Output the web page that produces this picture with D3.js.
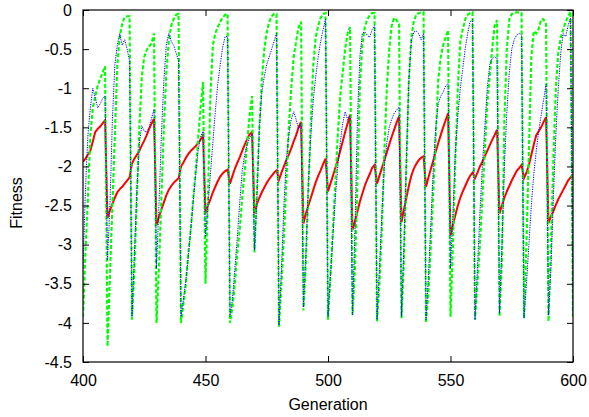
<!DOCTYPE html>
<html>
<head>
<meta charset="utf-8">
<script src="https://cdn.jsdelivr.net/npm/d3@7"></script>
<style>
  html, body { margin: 0; padding: 0; background: #fff; }
  svg { display: block; }
  text { font-family: "Liberation Sans", Arial, Helvetica, sans-serif; fill: #000; }
</style>
</head>
<body>
<svg id="chart" width="589" height="417"></svg>
<script>
// ---- data (generation 400 .. 600, one value per generation) ----
const genStart = 400, genEnd = 600;

const redSeries = [
  -1.94,-1.90,-1.85,-1.80,-1.68,-1.56,-1.52,-1.49,-1.45,-1.41,
  -2.66,-2.56,-2.48,-2.40,-2.33,-2.29,-2.26,-2.22,-2.18,-2.14,
  -1.96,-1.90,-1.85,-1.80,-1.73,-1.67,-1.60,-1.52,-1.45,-1.39,
  -2.75,-2.65,-2.55,-2.46,-2.37,-2.30,-2.25,-2.21,-2.18,-2.15,
  -2.00,-1.95,-1.89,-1.84,-1.80,-1.77,-1.74,-1.70,-1.66,-1.60,
  -2.60,-2.50,-2.42,-2.33,-2.26,-2.19,-2.13,-2.09,-2.06,-2.04,
  -2.22,-2.12,-2.03,-1.95,-1.88,-1.80,-1.72,-1.65,-1.59,-1.56,
  -2.60,-2.48,-2.40,-2.33,-2.27,-2.21,-2.16,-2.12,-2.08,-2.05,
  -2.17,-2.08,-2.00,-1.92,-1.85,-1.77,-1.68,-1.60,-1.50,-1.43,
  -2.73,-2.60,-2.50,-2.40,-2.30,-2.20,-2.12,-2.05,-1.97,-1.90,
  -2.32,-2.22,-2.12,-2.02,-1.92,-1.80,-1.68,-1.56,-1.45,-1.34,
  -2.81,-2.70,-2.58,-2.45,-2.35,-2.25,-2.17,-2.10,-2.02,-1.98,
  -2.22,-2.12,-2.02,-1.92,-1.82,-1.72,-1.62,-1.53,-1.44,-1.36,
  -2.71,-2.55,-2.40,-2.25,-2.12,-2.03,-1.97,-1.92,-1.89,-1.87,
  -2.26,-2.14,-2.03,-1.92,-1.81,-1.70,-1.60,-1.50,-1.41,-1.32,
  -2.88,-2.75,-2.62,-2.50,-2.40,-2.32,-2.25,-2.18,-2.12,-2.08,
  -2.15,-2.08,-2.00,-1.94,-1.87,-1.80,-1.73,-1.66,-1.60,-1.53,
  -2.60,-2.50,-2.40,-2.32,-2.25,-2.18,-2.12,-2.06,-2.02,-1.98,
  -2.15,-2.08,-1.98,-1.85,-1.72,-1.60,-1.55,-1.50,-1.43,-1.37,
  -2.72,-2.64,-2.57,-2.49,-2.42,-2.36,-2.30,-2.24,-2.18,-2.14,
  -2.10
];

const greenSeries = [
  -3.92,-3.10,-2.40,-1.60,-1.25,-1.10,-0.97,-0.88,-0.80,-0.72,
  -4.30,-3.40,-2.50,-1.60,-0.70,-0.34,-0.18,-0.09,-0.08,-0.08,
  -3.96,-3.30,-2.40,-1.50,-0.85,-0.60,-0.51,-0.47,-0.42,-0.30,
  -4.00,-3.30,-2.40,-1.50,-0.80,-0.40,-0.20,-0.12,-0.06,-0.05,
  -4.00,-3.75,-3.50,-3.10,-2.80,-2.40,-2.05,-1.65,-1.25,-0.92,
  -3.50,-2.40,-1.10,-0.45,-0.30,-0.22,-0.15,-0.10,-0.06,-0.05,
  -4.00,-3.80,-3.50,-3.10,-2.80,-2.40,-2.05,-1.70,-1.35,-1.10,
  -3.10,-2.30,-1.50,-0.90,-0.50,-0.28,-0.15,-0.08,-0.05,-0.05,
  -4.05,-3.50,-2.90,-2.20,-1.50,-1.00,-0.60,-0.40,-0.22,-0.15,
  -3.84,-3.20,-2.30,-1.40,-0.70,-0.35,-0.20,-0.10,-0.05,-0.04,
  -3.96,-3.40,-2.80,-2.20,-1.60,-1.10,-0.80,-0.50,-0.30,-0.22,
  -3.90,-3.30,-2.20,-1.00,-0.45,-0.22,-0.12,-0.07,-0.04,-0.04,
  -3.98,-3.50,-2.80,-1.80,-1.00,-0.50,-0.20,-0.10,-0.13,-0.18,
  -3.94,-3.20,-2.00,-0.90,-0.35,-0.15,-0.06,-0.04,-0.03,-0.03,
  -4.00,-3.60,-3.00,-2.30,-1.60,-0.90,-0.60,-0.45,-0.35,-0.26,
  -3.92,-3.00,-1.90,-1.00,-0.40,-0.25,-0.12,-0.06,-0.04,-0.03,
  -3.96,-3.50,-3.00,-2.40,-1.80,-1.20,-0.85,-0.50,-0.20,-0.13,
  -3.92,-3.20,-1.40,-0.50,-0.12,-0.05,-0.04,-0.03,-0.03,-0.04,
  -3.94,-3.00,-1.80,-0.60,-0.27,-0.30,-0.24,-0.12,-0.12,-0.18,
  -3.98,-3.00,-1.90,-1.00,-0.55,-0.35,-0.25,-0.15,-0.08,-0.02,
  -3.95
];

const blueSeries = [
  -3.30,-2.30,-1.60,-1.25,-1.00,-1.12,-1.25,-1.20,-1.13,-1.10,
  -3.20,-2.50,-1.40,-0.70,-0.45,-0.30,-0.45,-0.38,-0.50,-0.65,
  -3.92,-3.10,-2.30,-1.70,-1.48,-1.55,-1.56,-1.50,-1.38,-1.27,
  -3.30,-2.50,-1.60,-0.90,-0.45,-0.30,-0.40,-0.45,-0.55,-0.65,
  -3.92,-3.70,-3.45,-3.15,-2.80,-2.45,-2.10,-1.80,-1.62,-1.55,
  -2.90,-2.50,-2.10,-1.70,-1.30,-0.95,-0.70,-0.48,-0.34,-0.34,
  -3.92,-3.70,-3.30,-2.90,-2.45,-2.05,-1.85,-1.72,-1.64,-1.58,
  -3.07,-2.40,-1.50,-1.05,-0.85,-0.70,-0.60,-0.50,-0.40,-0.30,
  -4.03,-3.30,-2.50,-1.90,-1.60,-1.40,-1.30,-1.40,-1.52,-1.45,
  -3.80,-3.10,-2.20,-1.60,-1.15,-0.85,-0.60,-0.40,-0.25,-0.12,
  -3.92,-3.40,-2.90,-2.40,-2.00,-1.70,-1.45,-1.30,-1.40,-1.35,
  -3.90,-2.80,-1.40,-0.60,-0.30,-0.28,-0.32,-0.35,-0.25,-0.20,
  -3.96,-3.30,-2.60,-2.00,-1.70,-1.50,-1.40,-1.32,-1.28,-1.24,
  -3.92,-3.00,-1.90,-0.90,-0.40,-0.28,-0.27,-0.30,-0.38,-0.30,
  -3.96,-3.40,-2.70,-2.00,-1.50,-1.20,-1.10,-1.05,-0.97,-0.94,
  -3.30,-2.60,-1.80,-1.35,-1.00,-0.75,-0.50,-0.30,-0.15,-0.12,
  -3.96,-3.30,-2.60,-2.00,-1.50,-1.00,-0.70,-0.62,-0.60,-0.62,
  -3.88,-3.00,-2.00,-1.30,-0.80,-0.50,-0.38,-0.32,-0.30,-0.32,
  -3.94,-3.50,-3.00,-2.50,-2.10,-1.80,-1.55,-1.35,-1.15,-0.95,
  -3.90,-3.30,-2.40,-1.60,-1.00,-0.55,-0.30,-0.34,-0.20,-0.10,
  -3.90
];

const xTicks = [400, 450, 500, 550, 600];
const xTickLabels = ["400", "450", "500", "550", "600"];
const yTicks = [-4.5, -4, -3.5, -3, -2.5, -2, -1.5, -1, -0.5, 0];
const yTickLabels = ["-4.5", "-4", "-3.5", "-3", "-2.5", "-2", "-1.5", "-1", "-0.5", "0"];
const xTitle = "Generation";
const yTitle = "Fitness";

// ---- layout ----
const W = 589, H = 417;
const margin = { left: 83, right: 16, top: 10, bottom: 55 };
const plotW = W - margin.left - margin.right;
const plotH = H - margin.top - margin.bottom;

const svg = d3.select("#chart");
const g = svg.append("g").attr("transform", `translate(${margin.left},${margin.top})`);

const x = d3.scaleLinear().domain([genStart, genEnd]).range([0, plotW]);
const y = d3.scaleLinear().domain([-4.5, 0]).range([plotH, 0]);

const gens = d3.range(genStart, genEnd + 1);
const toPts = s => gens.map((gen, i) => ({ gen, v: s[i] }));

const line = d3.line().x(d => x(d.gen)).y(d => y(d.v));

g.append("defs").append("clipPath").attr("id", "clip")
  .append("rect").attr("x", 0).attr("y", -2).attr("width", plotW).attr("height", plotH + 4);

const series = [
  { data: redSeries,   color: "#ff0000", width: 2,   dash: null },
  { data: greenSeries, color: "#00ff00", width: 2.1, dash: "4,2" },
  { data: blueSeries,  color: "#0000ff", width: 1,   dash: "1.2,1.2" }
];

const lines = g.append("g").attr("clip-path", "url(#clip)");
series.forEach(s => {
  lines.append("path")
    .datum(toPts(s.data))
    .attr("fill", "none")
    .attr("stroke", s.color)
    .attr("stroke-width", s.width)
    .attr("stroke-dasharray", s.dash)
    .attr("stroke-linejoin", "miter")
    .attr("d", line);
});

// ---- axes ----
const fontSize = 16;
const bottomAxis = d3.axisBottom(x).tickValues(xTicks)
  .tickFormat((d, i) => xTickLabels[i]).tickSizeInner(-6).tickSizeOuter(0).tickPadding(13);
const leftAxis = d3.axisLeft(y).tickValues(yTicks)
  .tickFormat((d, i) => yTickLabels[i]).tickSizeInner(-6).tickSizeOuter(0).tickPadding(11);
const topAxis = d3.axisTop(x).tickValues(xTicks).tickFormat("").tickSizeInner(-6).tickSizeOuter(0);
const rightAxis = d3.axisRight(y).tickValues(yTicks).tickFormat("").tickSizeInner(-6).tickSizeOuter(0);

function styleAxis(sel) {
  sel.select(".domain").remove();
  sel.selectAll(".tick line").attr("stroke", "#000").attr("stroke-width", 1);
  sel.selectAll(".tick text").attr("font-size", fontSize)
    .attr("font-family", '"Liberation Sans", Arial, sans-serif').attr("fill", "#000");
}

g.append("g").attr("transform", `translate(0,${plotH})`).call(bottomAxis).call(styleAxis);
g.append("g").call(leftAxis).call(styleAxis);
g.append("g").call(topAxis).call(styleAxis);
g.append("g").attr("transform", `translate(${plotW},0)`).call(rightAxis).call(styleAxis);

// frame
g.append("rect").attr("x", 0).attr("y", 0).attr("width", plotW).attr("height", plotH)
  .attr("fill", "none").attr("stroke", "#000").attr("stroke-width", 1.2);

// titles
svg.append("text")
  .attr("x", margin.left + plotW / 2).attr("y", 410)
  .attr("text-anchor", "middle").attr("font-size", fontSize).text(xTitle);

svg.append("text")
  .attr("transform", `translate(22,203) rotate(-90)`)
  .attr("text-anchor", "middle").attr("font-size", fontSize).text(yTitle);
</script>
</body>
</html>
